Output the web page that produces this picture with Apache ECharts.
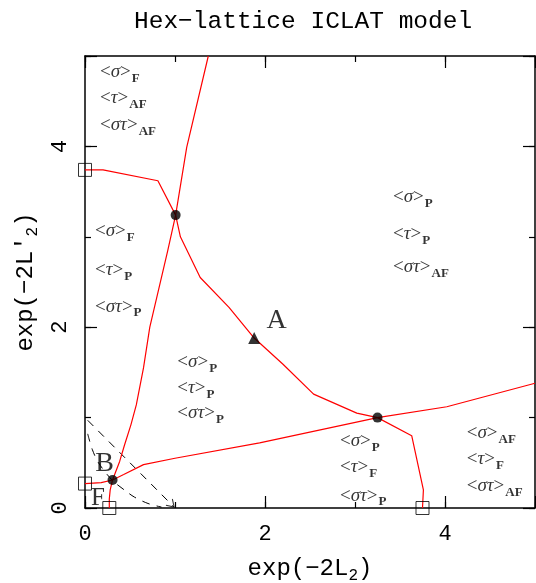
<!DOCTYPE html>
<html><head><meta charset="utf-8">
<script src="https://cdn.jsdelivr.net/npm/echarts@6/dist/echarts.min.js"></script>
<style>html,body{margin:0;padding:0;background:#fff}#c{width:536px;height:583px}</style>
</head><body><div id="c"></div>
<script>
// ---------- data ----------
const titleText = 'Hex\u2212lattice ICLAT model';
const xAxisTitle = ['exp(\u22122L', '2', ')'];
const yAxisTitle = ['exp(\u22122L\u2032', '2', ')'];
const xTickLabels = ['0', '2', '4'];
const yTickLabels = ['0', '2', '4'];

// red phase boundaries
const lineSteep = [[0.306,0.31],[0.385,0.515],[0.44,0.70],[0.51,0.92],[0.57,1.14],[0.65,1.55],[0.72,2.0],[0.92,2.85],[1.007,3.24],[1.13,3.99],[1.37,5.0]];
const lineDown = [[0.306,0.31],[0.28,0.2],[0.27,0.1],[0.27,0.0]];
const lineLeft = [[0,0.27],[0.18,0.28],[0.306,0.31]];
const lineFlat = [[0.306,0.31],[0.43,0.37],[0.65,0.48],[1.0,0.55],[1.94,0.72],[3.25,1.0],[4.02,1.12],[5.0,1.38]];
const lineUpper = [[0,3.74],[0.2,3.74],[0.81,3.62],[1.007,3.24],[1.06,3.0],[1.28,2.55],[1.6,2.22],[1.88,1.88],[2.2,1.59],[2.54,1.26],[3.02,1.05],[3.25,1.0],[3.63,0.80],[3.76,0.2],[3.75,0.0]];

// dashed flow lines
const dashStraight = [[0.03,0.97],[0.985,0.015]];
const dashCurved = [[0.03,0.82],[0.08,0.65],[0.15,0.5],[0.3,0.31],[0.45,0.19],[0.55,0.12],[0.7,0.05],[0.85,0.01]];
const arrowTip = [[0.985,0.015]];

// special points
const fixedDots = [[1.007,3.24],[3.25,1.0],[0.306,0.31]];
const triPoint = [[1.88,1.88]];
const squarePoints = [[0,3.74],[0,0.27],[0.27,0],[3.75,0]];

// region annotations
const regX = [0.167,0.167,0.167, 0.111,0.111,0.111, 3.422,3.422,3.422, 1.026,1.026,1.026, 2.833,2.833,2.833, 4.241,4.241,4.241];
const regY = [4.826,4.534,4.236, 3.059,2.633,2.228, 3.443,3.031,2.661, 1.611,1.329,1.053, 0.736,0.451,0.138, 0.829,0.545,0.239];
const regGreek = ['\u03c3','\u03c4','\u03c3\u03c4', '\u03c3','\u03c4','\u03c3\u03c4', '\u03c3','\u03c4','\u03c3\u03c4', '\u03c3','\u03c4','\u03c3\u03c4', '\u03c3','\u03c4','\u03c3\u03c4', '\u03c3','\u03c4','\u03c3\u03c4'];
const regSub = ['F','AF','AF', 'F','P','P', 'P','P','AF', 'P','P','P', 'P','F','P', 'AF','F','AF'];

// point letters
const letterX = [2.13, 0.219, 0.144];
const letterY = [2.10, 0.515, 0.128];
const letterText = ['A', 'B', 'F'];
const letterSize = ['big', 'big', 'mid'];

// ---------- chart ----------
const mono = "'Liberation Mono', 'DejaVu Sans Mono', monospace";
const serif = "'Liberation Serif', 'DejaVu Serif', serif";
const chart = echarts.init(document.getElementById('c'), null, {renderer: 'canvas'});

function xAx(pos, interval, len, main) {
  return {
    type: 'value', position: pos, min: 0, max: 5, interval: interval,
    axisLine: {show: main, onZero: false, lineStyle: {color: '#000', width: 1.5}},
    axisTick: {show: true, inside: true, length: len, lineStyle: {color: '#000', width: 1.2}},
    axisLabel: {show: false}, splitLine: {show: false}
  };
}
const xAxes = [xAx('bottom', 2, 12, true), xAx('bottom', 1, 6, false), xAx('top', 2, 12, true), xAx('top', 1, 6, false)];
const yAxes = [xAx('left', 2, 12, true), xAx('left', 1, 6, false), xAx('right', 2, 12, true), xAx('right', 1, 6, false)];

const nameRich = {
  a: {fontFamily: mono, fontSize: 24, color: '#000'},
  s: {fontFamily: mono, fontSize: 16, color: '#000', padding: [14, 0, 0, 0]}
};
xAxes[0].axisLabel = {show: true, margin: 15, fontFamily: mono, fontSize: 22, color: '#000',
  formatter: v => { const i = xTickLabels.indexOf(String(v)); return i >= 0 ? xTickLabels[i] : ''; }};
xAxes[0].name = '{a|' + xAxisTitle[0] + '}{s|' + xAxisTitle[1] + '}{a|' + xAxisTitle[2] + '}';
xAxes[0].nameLocation = 'middle';
xAxes[0].nameGap = 46;
xAxes[0].nameTextStyle = {rich: nameRich};

yAxes[0].axisLabel = {show: true, margin: 14, rotate: 90, fontFamily: mono, fontSize: 22, color: '#000',
  formatter: v => { const i = yTickLabels.indexOf(String(v)); return i >= 0 ? yTickLabels[i] : ''; }};
yAxes[0].name = '{a|' + yAxisTitle[0] + '}{s|' + yAxisTitle[1] + '}{a|' + yAxisTitle[2] + '}';
yAxes[0].nameLocation = 'middle';
yAxes[0].nameGap = 42;
yAxes[0].nameRotate = 90;
yAxes[0].nameTextStyle = {rich: nameRich};

function redLine(d) {
  return {type: 'line', data: d, showSymbol: false, symbol: 'none', silent: true,
    lineStyle: {color: '#ff0000', width: 1.2}, z: 3, animation: false};
}

const regData = regX.map((x, i) => ({value: [x, regY[i]], g: regGreek[i], s: regSub[i]}));
const letterData = letterX.map((x, i) => ({value: [x, letterY[i]], t: letterText[i], k: letterSize[i]}));

chart.setOption({
  animation: false,
  backgroundColor: '#fff',
  title: {text: titleText, left: 129, top: 4,
    textStyle: {fontFamily: mono, fontSize: 24.5, fontWeight: 'normal', color: '#000'}},
  grid: {left: 85, right: 1, top: 56, bottom: 75, containLabel: false, outerBoundsMode: 'none'},
  xAxis: xAxes,
  yAxis: yAxes,
  series: [
    redLine(lineSteep), redLine(lineDown), redLine(lineLeft), redLine(lineFlat), redLine(lineUpper),
    {type: 'line', data: dashStraight, symbol: 'none', lineStyle: {color: '#000', width: 1, type: [8, 7]}, z: 2},
    {type: 'line', data: dashCurved, symbol: 'none', smooth: 0.3, lineStyle: {color: '#000', width: 1, type: [8, 7]}, z: 2},
    {type: 'scatter', data: arrowTip, symbol: 'path://M0,0L5,8L10,0', symbolSize: [9, 7], symbolRotate: 45,
      symbolOffset: [-2, -2], itemStyle: {color: 'rgba(0,0,0,0)', borderColor: '#000', borderWidth: 1}, z: 2},
    {type: 'scatter', data: squarePoints, symbol: 'rect', symbolSize: 13,
      itemStyle: {color: 'rgba(0,0,0,0)', borderColor: '#000', borderWidth: 1}, z: 4},
    {type: 'scatter', data: fixedDots, symbol: 'circle', symbolSize: 10, itemStyle: {color: '#000'}, z: 5},
    {type: 'scatter', data: triPoint, symbol: 'triangle', symbolSize: 12, itemStyle: {color: '#000'}, z: 5},
    {type: 'scatter', data: regData, symbolSize: 0, silent: true, z: 6,
      label: {show: true, position: 'right', distance: 0, align: 'left', verticalAlign: 'middle',
        formatter: p => '{b|<}{g|' + p.data.g + '}{b|>}{s|' + p.data.s + '}',
        rich: {
          b: {fontFamily: serif, fontSize: 19, color: '#000'},
          g: {fontFamily: serif, fontSize: 19, fontStyle: 'italic', color: '#000'},
          s: {fontFamily: serif, fontSize: 13, fontWeight: 'bold', color: '#000', padding: [13, 0, 0, 1]}
        }}},
    {type: 'scatter', data: letterData, symbolSize: 0, silent: true, z: 6,
      label: {show: true, position: 'inside', align: 'center', verticalAlign: 'middle', offset: [0, 2],
        formatter: p => '{' + p.data.k + '|' + p.data.t + '}',
        rich: {
          big: {fontFamily: serif, fontSize: 28, color: '#000'},
          mid: {fontFamily: serif, fontSize: 25, color: '#000'}
        }}}
  ]
});
</script></body></html>
